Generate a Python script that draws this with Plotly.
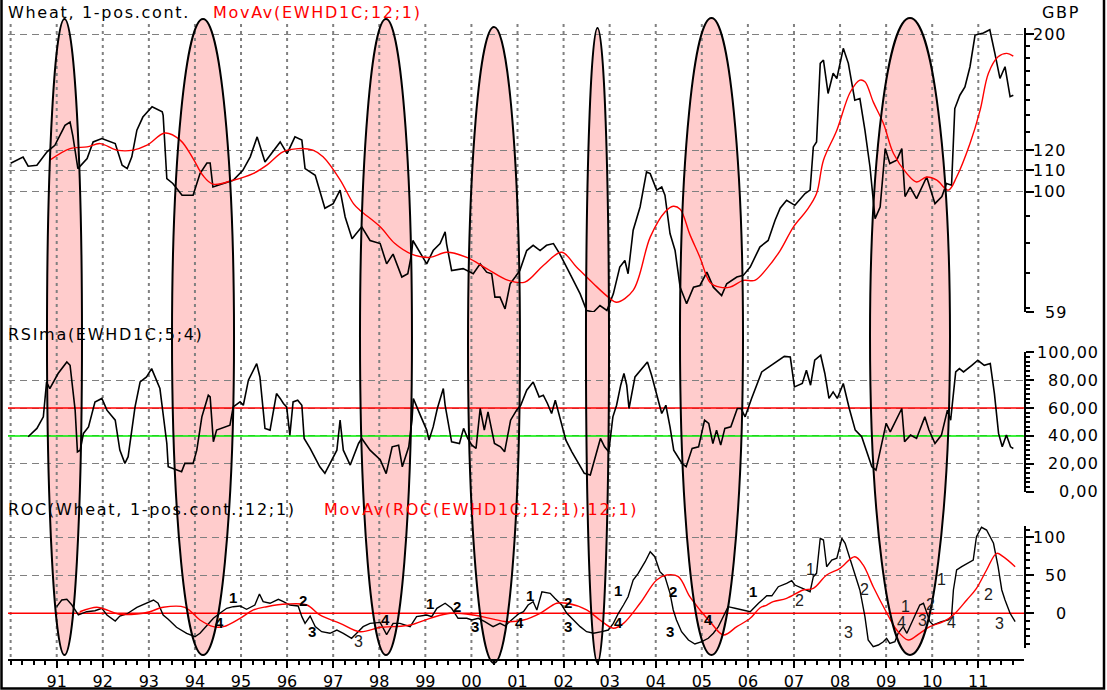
import math
import plotly.graph_objects as go

# ------------------------------------------------------------------ data
# price (GBP), log scale  -- (decimal year, value)
price_pts = [
    (1990.00, 113.5), (1990.27, 116.6), (1990.38, 112.0), (1990.57, 112.5), (1990.79, 119.3),
    (1990.96, 122.8), (1991.18, 134.0), (1991.29, 136.0), (1991.35, 128.0), (1991.46, 110.8),
    (1991.66, 115.8), (1991.79, 124.6), (1991.98, 126.5), (1992.27, 123.7), (1992.42, 112.5),
    (1992.53, 110.8), (1992.63, 116.7), (1992.74, 131.2), (1992.87, 139.0), (1993.07, 145.5),
    (1993.29, 142.3), (1993.31, 140.0), (1993.39, 106.0), (1993.52, 103.8), (1993.72, 98.6),
    (1993.96, 98.6), (1994.11, 108.4), (1994.26, 113.6), (1994.33, 113.6), (1994.39, 102.2),
    (1994.83, 105.3), (1995.04, 110.0), (1995.20, 116.7), (1995.35, 127.4), (1995.52, 114.1),
    (1995.69, 119.3), (1995.85, 124.6), (1996.00, 118.4), (1996.17, 127.4), (1996.32, 125.6),
    (1996.39, 110.8), (1996.61, 107.6), (1996.82, 93.1), (1997.00, 95.0), (1997.15, 100.8),
    (1997.26, 89.6), (1997.41, 81.4), (1997.62, 85.8), (1997.80, 80.8), (1998.02, 79.7),
    (1998.16, 72.9), (1998.30, 76.1), (1998.49, 68.8), (1998.62, 69.8), (1998.70, 76.1),
    (1998.73, 80.8), (1999.03, 72.9), (1999.17, 77.3), (1999.32, 79.7), (1999.43, 83.9),
    (1999.46, 79.7), (1999.57, 70.8), (1999.82, 71.4), (2000.04, 69.8), (2000.19, 72.9),
    (2000.33, 70.3), (2000.44, 69.8), (2000.51, 63.0), (2000.62, 63.0), (2000.73, 59.8),
    (2000.84, 66.8), (2000.95, 68.8), (2001.05, 70.8), (2001.20, 77.3), (2001.34, 79.1),
    (2001.49, 77.3), (2001.63, 79.1), (2001.78, 79.7), (2001.92, 76.1), (2002.14, 69.8),
    (2002.36, 63.9), (2002.50, 59.4), (2002.65, 59.0), (2002.79, 60.7), (2002.94, 59.4),
    (2003.08, 63.9), (2003.22, 71.9), (2003.33, 74.0), (2003.40, 69.8), (2003.51, 84.5),
    (2003.66, 93.6), (2003.80, 109.2), (2003.88, 108.4), (2004.02, 100.8), (2004.13, 102.2),
    (2004.20, 98.6), (2004.31, 83.3), (2004.42, 77.3), (2004.53, 65.8), (2004.67, 61.2),
    (2004.82, 65.8), (2004.96, 66.3), (2005.11, 70.3), (2005.25, 65.8), (2005.43, 63.4),
    (2005.54, 66.8), (2005.76, 68.8), (2005.90, 69.3), (2006.05, 71.9), (2006.26, 78.5),
    (2006.44, 80.8), (2006.59, 88.3), (2006.70, 93.1), (2006.84, 96.4), (2007.02, 94.3),
    (2007.24, 99.3), (2007.35, 100.8), (2007.42, 121.9), (2007.49, 124.6), (2007.57, 176.0),
    (2007.64, 178.6), (2007.74, 154.2), (2007.85, 168.5), (2007.93, 164.7), (2008.07, 188.0),
    (2008.18, 176.0), (2008.32, 149.7), (2008.43, 150.8), (2008.54, 131.2), (2008.65, 111.6),
    (2008.72, 96.4), (2008.76, 88.9), (2008.87, 93.6), (2008.98, 121.0), (2009.08, 113.3),
    (2009.23, 115.0), (2009.34, 121.0), (2009.41, 98.0), (2009.52, 102.2), (2009.66, 97.1),
    (2009.88, 106.8), (2010.06, 95.0), (2010.21, 98.0), (2010.31, 103.8), (2010.42, 103.0),
    (2010.46, 121.0), (2010.49, 144.3), (2010.60, 153.0), (2010.71, 158.7), (2010.82, 173.4),
    (2010.93, 199.3), (2011.11, 201.2), (2011.25, 204.0), (2011.36, 183.9), (2011.47, 164.7),
    (2011.58, 173.4), (2011.69, 152.0), (2011.76, 153.0),
]

# MovAv(EWHD1C;12;1)
price_ma_pts = [
    (1990.85, 115.0), (1991.29, 121.0), (1991.66, 121.9), (1991.94, 123.7), (1992.31, 120.2),
    (1992.66, 120.2), (1992.96, 122.8), (1993.35, 129.6), (1993.68, 125.6), (1993.96, 115.8),
    (1994.17, 107.6), (1994.39, 103.5), (1994.83, 105.3), (1995.26, 108.4), (1995.56, 112.5),
    (1995.91, 119.3), (1996.24, 121.0), (1996.56, 120.2), (1996.78, 116.7), (1997.15, 105.5),
    (1997.44, 95.0), (1997.58, 92.3), (1998.02, 85.8), (1998.34, 79.7), (1998.70, 76.1),
    (1999.10, 75.0), (1999.46, 76.7), (1999.90, 75.0), (2000.33, 71.4), (2000.80, 67.8),
    (2001.16, 67.3), (2001.56, 72.4), (2001.96, 76.7), (2002.28, 71.9), (2002.65, 66.8),
    (2002.97, 63.0), (2003.15, 61.6), (2003.51, 64.9), (2003.88, 82.0), (2004.20, 91.6),
    (2004.38, 93.9), (2004.53, 92.7), (2004.74, 83.0), (2004.96, 75.0), (2005.18, 67.2),
    (2005.39, 65.8), (2005.61, 65.8), (2005.90, 67.8), (2006.15, 67.8), (2006.41, 71.4),
    (2006.70, 77.3), (2006.99, 85.8), (2007.28, 92.3), (2007.49, 99.3), (2007.64, 115.0),
    (2007.93, 131.2), (2008.22, 155.0), (2008.43, 163.5), (2008.54, 162.4), (2008.72, 148.6),
    (2008.94, 135.2), (2009.16, 118.4), (2009.45, 108.4), (2009.66, 104.5), (2009.88, 106.8),
    (2010.10, 105.3), (2010.35, 100.8), (2010.53, 106.8), (2010.82, 123.7), (2011.04, 143.3),
    (2011.22, 168.5), (2011.43, 181.2), (2011.62, 183.9), (2011.76, 181.7),
]

# RSIma(EWHD1C;5;4)
rsi_pts = [
    (1990.38, 39.4), (1990.57, 45.4), (1990.71, 53.7), (1990.78, 78.7), (1990.85, 74.0),
    (1991.03, 84.8), (1991.22, 93.1), (1991.29, 90.7), (1991.40, 58.5), (1991.45, 28.6),
    (1991.51, 29.8), (1991.58, 41.8), (1991.69, 46.5), (1991.83, 64.4), (1991.98, 66.9),
    (1992.09, 58.5), (1992.27, 51.3), (1992.37, 29.8), (1992.48, 20.3), (1992.55, 25.1),
    (1992.70, 60.8), (1992.81, 78.7), (1992.95, 82.3), (1993.06, 88.3), (1993.24, 74.0),
    (1993.39, 34.6), (1993.42, 17.9), (1993.71, 14.3), (1993.78, 20.3), (1993.96, 20.3),
    (1994.04, 29.8), (1994.15, 53.7), (1994.29, 69.2), (1994.33, 68.0), (1994.40, 35.8),
    (1994.47, 44.2), (1994.76, 47.7), (1994.83, 60.8), (1994.98, 64.4), (1995.05, 62.0),
    (1995.16, 80.0), (1995.34, 91.9), (1995.41, 82.3), (1995.52, 45.4), (1995.63, 44.2),
    (1995.77, 70.4), (1995.85, 66.9), (1995.92, 63.3), (1995.99, 60.8), (1996.06, 40.6),
    (1996.13, 64.4), (1996.23, 65.6), (1996.32, 62.0), (1996.37, 38.2), (1996.50, 31.1),
    (1996.71, 17.9), (1996.82, 13.2), (1996.97, 22.7), (1997.08, 29.8), (1997.15, 51.3),
    (1997.22, 29.8), (1997.37, 19.1), (1997.55, 34.6), (1997.62, 38.2), (1997.80, 29.8),
    (1998.02, 23.0), (1998.15, 13.0), (1998.28, 32.2), (1998.42, 33.4), (1998.50, 17.9),
    (1998.64, 32.2), (1998.71, 51.3), (1998.74, 66.9), (1998.86, 57.3), (1999.03, 44.2),
    (1999.08, 37.0), (1999.17, 46.5), (1999.26, 59.7), (1999.39, 74.0), (1999.43, 62.0),
    (1999.57, 35.8), (1999.74, 34.6), (1999.83, 45.4), (1999.92, 38.2), (2000.01, 33.4),
    (2000.10, 31.1), (2000.19, 59.7), (2000.28, 44.2), (2000.36, 57.3), (2000.50, 34.6),
    (2000.63, 32.2), (2000.72, 28.6), (2000.85, 51.3), (2000.98, 58.5), (2001.07, 62.0),
    (2001.20, 72.8), (2001.34, 78.7), (2001.47, 68.0), (2001.56, 69.2), (2001.65, 63.3),
    (2001.74, 56.1), (2001.82, 65.6), (2001.91, 53.7), (2002.05, 37.0), (2002.18, 28.6),
    (2002.36, 17.9), (2002.45, 13.2), (2002.58, 12.0), (2002.67, 22.7), (2002.80, 38.2),
    (2002.89, 32.2), (2002.98, 28.6), (2003.07, 53.7), (2003.15, 62.0), (2003.24, 76.4),
    (2003.31, 84.8), (2003.37, 76.4), (2003.42, 59.7), (2003.55, 82.3), (2003.82, 93.1),
    (2003.91, 83.5), (2004.04, 68.0), (2004.13, 56.1), (2004.22, 62.0), (2004.31, 46.5),
    (2004.39, 29.8), (2004.57, 20.3), (2004.66, 17.9), (2004.79, 31.1), (2004.93, 32.2),
    (2005.06, 51.3), (2005.15, 49.0), (2005.24, 34.6), (2005.32, 44.2), (2005.41, 33.4),
    (2005.50, 45.4), (2005.63, 46.5), (2005.77, 59.7), (2005.85, 59.7), (2005.94, 53.7),
    (2006.08, 66.9), (2006.30, 85.9), (2006.56, 91.9), (2006.79, 97.1), (2006.92, 96.6),
    (2007.01, 75.2), (2007.18, 77.6), (2007.27, 87.1), (2007.36, 76.4), (2007.45, 94.3),
    (2007.58, 97.9), (2007.67, 84.8), (2007.76, 66.9), (2007.85, 71.6), (2007.94, 66.9),
    (2008.07, 77.6), (2008.20, 59.7), (2008.33, 44.2), (2008.47, 39.4), (2008.56, 31.1),
    (2008.69, 17.9), (2008.78, 15.5), (2008.87, 28.6), (2009.00, 49.0), (2009.09, 42.9),
    (2009.22, 51.3), (2009.34, 59.7), (2009.40, 35.8), (2009.53, 40.6), (2009.66, 38.2),
    (2009.84, 53.7), (2009.93, 44.2), (2010.06, 34.6), (2010.20, 40.6), (2010.33, 58.5),
    (2010.40, 51.3), (2010.51, 85.9), (2010.59, 88.3), (2010.68, 85.9), (2010.86, 90.7),
    (2010.99, 94.3), (2011.13, 90.7), (2011.26, 91.9), (2011.35, 70.4), (2011.44, 41.8),
    (2011.52, 32.2), (2011.61, 40.6), (2011.70, 32.2), (2011.76, 31.0),
]

# ROC(Wheat, 1-pos.cont.;12;1)
roc_pts = [
    (1991.00, 8.7), (1991.11, 17.5), (1991.22, 18.4), (1991.33, 10.9), (1991.47, -2.2),
    (1991.65, 2.1), (1991.83, 3.4), (1991.98, 6.6), (1992.09, -2.2), (1992.27, -10.1),
    (1992.37, -3.6), (1992.52, -0.9), (1992.74, 7.9), (1992.95, 13.2), (1993.10, 17.5),
    (1993.20, 13.2), (1993.31, -2.2), (1993.42, -7.9), (1993.60, -18.4), (1993.82, -26.3),
    (1994.00, -30.8), (1994.11, -26.3), (1994.26, -15.4), (1994.40, -6.6), (1994.54, 0.0),
    (1994.69, 6.6), (1994.83, 8.7), (1994.98, 9.6), (1995.12, 5.3), (1995.30, 10.9),
    (1995.40, 25.4), (1995.48, 15.3), (1995.63, 13.2), (1995.81, 18.4), (1995.92, 15.3),
    (1996.06, 10.9), (1996.24, 9.6), (1996.32, -4.4), (1996.39, -13.2), (1996.50, -3.6),
    (1996.61, -17.6), (1996.75, -24.2), (1996.93, -26.3), (1997.08, -22.0), (1997.22, -26.3),
    (1997.40, -32.9), (1997.51, -26.3), (1997.65, -17.6), (1997.80, -13.2), (1998.02, -12.0),
    (1998.16, -28.0), (1998.30, -13.2), (1998.45, -13.2), (1998.67, -17.6), (1998.81, -4.4),
    (1999.03, -2.2), (1999.14, -4.4), (1999.25, 6.6), (1999.43, 13.2), (1999.57, 6.6),
    (1999.71, -6.6), (1999.90, -6.6), (2000.01, -8.8), (2000.15, -6.6), (2000.29, -11.0),
    (2000.47, -17.6), (2000.62, -13.2), (2000.73, -16.7), (2000.87, -8.8), (2001.02, -0.9),
    (2001.13, 2.1), (2001.23, 10.9), (2001.34, 15.3), (2001.42, 4.4), (2001.53, 28.4),
    (2001.71, 26.3), (2001.81, 19.7), (2001.96, 10.9), (2002.07, 0.0), (2002.18, -6.6),
    (2002.36, -17.6), (2002.50, -24.2), (2002.65, -26.3), (2002.83, -24.2), (2002.97, -22.0),
    (2003.08, -13.2), (2003.19, 0.0), (2003.30, 10.9), (2003.40, 21.8), (2003.51, 43.8),
    (2003.62, 52.6), (2003.77, 67.9), (2003.88, 81.1), (2003.98, 74.5), (2004.09, 54.7),
    (2004.20, 48.2), (2004.31, 26.3), (2004.38, 4.4), (2004.45, -8.8), (2004.56, -24.2),
    (2004.71, -35.1), (2004.85, -40.4), (2005.00, -37.4), (2005.14, -32.9), (2005.25, -26.3),
    (2005.36, -17.6), (2005.47, -4.4), (2005.57, 8.7), (2005.72, 6.6), (2005.90, 4.4),
    (2006.05, 2.1), (2006.23, 13.2), (2006.41, 23.0), (2006.52, 23.0), (2006.66, 35.0),
    (2006.84, 39.5), (2006.95, 42.9), (2007.02, 37.2), (2007.20, 32.9), (2007.35, 28.4),
    (2007.42, 48.2), (2007.49, 52.6), (2007.57, 98.7), (2007.64, 96.4), (2007.71, 61.3),
    (2007.82, 70.1), (2007.93, 72.4), (2008.04, 98.7), (2008.11, 92.1), (2008.22, 70.1),
    (2008.32, 52.6), (2008.43, 30.7), (2008.54, -4.4), (2008.61, -35.1), (2008.72, -43.9),
    (2008.83, -41.7), (2008.94, -37.4), (2009.01, -32.9), (2009.08, -39.5), (2009.19, -37.4),
    (2009.26, -26.3), (2009.37, -17.6), (2009.45, -26.3), (2009.55, -13.2), (2009.66, 0.0),
    (2009.73, 10.9), (2009.81, 13.2), (2009.88, 0.0), (2009.95, -11.0), (2010.02, -15.4),
    (2010.20, -11.0), (2010.35, -8.8), (2010.42, -4.4), (2010.46, 30.7), (2010.53, 57.0),
    (2010.64, 61.3), (2010.82, 67.9), (2010.89, 70.1), (2010.96, 100.8), (2011.07, 113.2),
    (2011.18, 109.6), (2011.33, 92.1), (2011.43, 61.3), (2011.51, 30.7), (2011.58, 17.5),
    (2011.69, 0.0), (2011.80, -11.0),
]

# MovAv(ROC(EWHD1C;12;1);12;1)
roc_ma_pts = [
    (1991.50, 2.0), (1991.87, 7.9), (1992.09, 4.4), (1992.34, -0.9), (1992.74, -0.9),
    (1993.02, 2.1), (1993.31, 7.9), (1993.78, 7.9), (1994.11, -8.8), (1994.40, -17.6),
    (1994.62, -17.6), (1994.98, -6.6), (1995.27, 4.4), (1995.56, 8.7), (1995.99, 12.2),
    (1996.43, 10.9), (1996.71, -2.2), (1997.15, -13.2), (1997.58, -24.2), (1998.02, -18.4),
    (1998.30, -17.6), (1998.67, -15.4), (1999.10, -6.6), (1999.54, 0.0), (2000.04, -2.2),
    (2000.40, -6.6), (2000.77, -11.0), (2001.13, -8.8), (2001.49, 0.0), (2001.85, 13.2),
    (2002.07, 13.2), (2002.50, 4.4), (2002.79, -8.8), (2003.08, -19.7), (2003.30, -13.2),
    (2003.66, 13.2), (2004.02, 43.8), (2004.24, 50.4), (2004.49, 48.2), (2004.74, 21.8),
    (2004.96, 4.4), (2005.18, -11.0), (2005.47, -28.5), (2005.76, -17.6), (2006.05, -6.6),
    (2006.26, 7.0), (2006.41, 10.9), (2006.55, 15.3), (2006.84, 19.7), (2007.20, 30.7),
    (2007.42, 32.9), (2007.71, 50.4), (2008.00, 59.2), (2008.32, 74.5), (2008.50, 63.6),
    (2008.72, 35.0), (2008.98, 4.4), (2009.23, -22.0), (2009.48, -35.1), (2009.73, -26.3),
    (2009.95, -17.6), (2010.24, -11.0), (2010.46, -2.2), (2010.75, 17.5), (2010.96, 32.9),
    (2011.18, 57.0), (2011.40, 78.9), (2011.54, 74.5), (2011.80, 61.3),
]

# wave count labels in the ROC panel: (label, year, ROC value, bold)
wave_labels = [
    ("4", 1994.54, -12.4, True), ("1", 1994.83, 21.4, True), ("2", 1996.35, 16.6, True),
    ("3", 1996.54, -24.2, True), ("3", 1997.54, -37.4, False), ("4", 1998.13, -8.8, True),
    ("1", 1999.10, 13.2, True), ("2", 1999.68, 9.6, True), ("3", 2000.08, -17.6, True),
    ("4", 2001.05, -12.4, True), ("1", 2001.27, 22.8, True), ("2", 2002.10, 13.9, True),
    ("3", 2002.10, -17.6, True), ("4", 2003.19, -12.4, True), ("1", 2003.19, 29.7, True),
    ("2", 2004.38, 28.4, True), ("3", 2004.31, -24.2, True), ("4", 2005.14, -7.9, True),
    ("1", 2006.12, 28.4, True), ("2", 2007.13, 17.5, False), ("1", 2007.35, 57.0, False),
    ("3", 2008.18, -25.5, False), ("2", 2008.54, 30.7, False), ("1", 2009.41, 9.5, False),
    ("4", 2009.34, -12.4, False), ("2", 2009.97, 11.5, False), ("3", 2009.80, -9.0, False),
    ("1", 2010.20, 44.7, False), ("4", 2010.42, -12.4, False), ("2", 2011.22, 24.1, False),
    ("3", 2011.47, -13.2, False),
]

# highlighted periods (ellipses): centre year and half width in years
ellipse_center = [1991.169, 1994.175, 1998.146, 2000.490, 2002.736, 2005.210, 2009.518]
ellipse_halfwidth = [0.380, 0.673, 0.564, 0.564, 0.250, 0.684, 0.868]

year_ticks = list(range(1991, 2012))
year_labels = ["91", "92", "93", "94", "95", "96", "97", "98", "99", "00", "01",
               "02", "03", "04", "05", "06", "07", "08", "09", "10", "11"]
grid_years = list(range(1990, 2012))

price_tickvals = [59, 100, 110, 120, 200]
price_ticklabels = ["59", "100", "110", "120", "200"]
price_minor = [60, 70, 80, 90, 130, 140, 150, 160, 170, 180, 190]
rsi_tickvals = [0, 20, 40, 60, 80, 100]
rsi_ticklabels = ["0,00", "20,00", "40,00", "60,00", "80,00", "100,00"]
roc_tickvals = [0, 50, 100]
roc_ticklabels = ["0", "50", "100"]
rsi_upper_level = 60
rsi_lower_level = 40
roc_zero_level = 0

# ------------------------------------------------------------------ layout helpers
W, H = 1107, 690
ML, MR = 8, 83
PW = W - ML - MR
XR = [1989.943, 2011.992]


def py(p):            # pixel row -> paper y
    return 1 - p / H


def px(p):            # pixel column -> paper x
    return (p - ML) / PW


FONT = "DejaVu Sans"
GRID = "#808080"
PINK = "#ffcccc"


def unzip(pts):
    return [p[0] for p in pts], [p[1] for p in pts]


def spaced(text, sp):
    return f'<span style="letter-spacing:{sp}px">{text}</span>'


fig = go.Figure()

# reference levels (under the data lines)
fig.add_trace(go.Scatter(x=XR, y=[rsi_upper_level] * 2, yaxis="y2", mode="lines",
                         line=dict(color="#ff0000", width=1.5), hoverinfo="skip"))
fig.add_trace(go.Scatter(x=XR, y=[rsi_lower_level] * 2, yaxis="y2", mode="lines",
                         line=dict(color="#00ee00", width=1.5), hoverinfo="skip"))
fig.add_trace(go.Scatter(x=XR, y=[roc_zero_level] * 2, yaxis="y3", mode="lines",
                         line=dict(color="#ff0000", width=1.5), hoverinfo="skip"))

x, y = unzip(price_pts)
fig.add_trace(go.Scatter(x=x, y=y, yaxis="y", mode="lines", line=dict(color="black", width=1.6)))
x, y = unzip(price_ma_pts)
fig.add_trace(go.Scatter(x=x, y=y, yaxis="y", mode="lines", line=dict(color="#ff0000", width=1.4, shape="spline")))
x, y = unzip(rsi_pts)
fig.add_trace(go.Scatter(x=x, y=y, yaxis="y2", mode="lines", line=dict(color="black", width=1.6)))
x, y = unzip(roc_pts)
fig.add_trace(go.Scatter(x=x, y=y, yaxis="y3", mode="lines", line=dict(color="black", width=1.4)))
x, y = unzip(roc_ma_pts)
fig.add_trace(go.Scatter(x=x, y=y, yaxis="y3", mode="lines", line=dict(color="#ff0000", width=1.4, shape="spline")))

shapes = []
ell_top = [19, 19, 19, 27, 28, 18, 18]
ell_bot = [655, 655, 655, 663, 663, 655, 655]
for c, hw, t, b in zip(ellipse_center, ellipse_halfwidth, ell_top, ell_bot):
    shapes.append(dict(type="circle", xref="x", yref="paper", x0=c - hw, x1=c + hw,
                       y0=py(b), y1=py(t), fillcolor=PINK, line=dict(width=0), layer="below"))
for yr in grid_years:
    shapes.append(dict(type="line", xref="x", yref="paper", x0=yr, x1=yr, y0=py(657), y1=py(20),
                       line=dict(color=GRID, width=2, dash="3px,4px"), layer="below"))
for c, hw, t, b in zip(ellipse_center, ellipse_halfwidth, ell_top, ell_bot):
    shapes.append(dict(type="circle", xref="x", yref="paper", x0=c - hw, x1=c + hw,
                       y0=py(b), y1=py(t), fillcolor="rgba(0,0,0,0)",
                       line=dict(color="black", width=2), layer="above"))
# outer frame
shapes.append(dict(type="rect", xref="paper", yref="paper", x0=px(1.5), x1=px(1104),
                   y0=py(688.5), y1=py(-10), line=dict(color="black", width=2.5),
                   fillcolor="rgba(0,0,0,0)", layer="above"))

ann = []
tf = dict(family=FONT, size=16, color="black")
for v, t in zip(price_tickvals, price_ticklabels):
    ann.append(dict(xref="paper", yref="y", x=px(1069), y=math.log10(v), text=spaced(t, 1),
                    showarrow=False, xanchor="right", yanchor="middle", font=tf))
for v, t in zip(rsi_tickvals, rsi_ticklabels):
    ann.append(dict(xref="paper", yref="y2", x=px(1101), y=v, text=spaced(t, 1),
                    showarrow=False, xanchor="right", yanchor="middle", font=tf))
for v, t in zip(roc_tickvals, roc_ticklabels):
    ann.append(dict(xref="paper", yref="y3", x=px(1069), y=v, text=spaced(t, 1),
                    showarrow=False, xanchor="right", yanchor="middle", font=tf))

titles = [
    ("Wheat, 1-pos.cont.", 6, 12, "black", "left"),
    ("MovAv(EWHD1C;12;1)", 211, 12, "#ff0000", "left"),
    ("GBP", 1082, 12, "black", "right"),
    ("RSIma(EWHD1C;5;4)", 6, 335, "black", "left"),
    ("ROC(Wheat, 1-pos.cont.;12;1)", 6, 509, "black", "left"),
    ("MovAv(ROC(EWHD1C;12;1);12;1)", 322, 509, "#ff0000", "left"),
]
for t, xp, yp, col, anc in titles:
    ann.append(dict(xref="paper", yref="paper", x=px(xp), y=py(yp), text=spaced(t, 1.7),
                    showarrow=False, xanchor=anc, yanchor="middle",
                    font=dict(family=FONT, size=16, color=col)))

for lab, yr, v, bold in wave_labels:
    ann.append(dict(xref="x", yref="y3", x=yr, y=v, showarrow=False,
                    text=f"<b>{lab}</b>" if bold else lab, xanchor="center", yanchor="middle",
                    font=dict(family="Liberation Sans", size=15 if bold else 16,
                              color="black" if bold else "#202020")))

axis_common = dict(side="right", anchor="x", showline=True, linecolor="black", linewidth=2,
                   ticks="outside", ticklen=8, tickwidth=2, tickcolor="black",
                   showticklabels=False, showgrid=True, gridcolor=GRID, gridwidth=1.3,
                   griddash="7px,5px", zeroline=False)

fig.update_layout(
    width=W, height=H, margin=dict(l=ML, r=MR, t=0, b=0),
    paper_bgcolor="white", plot_bgcolor="rgba(0,0,0,0)", showlegend=False,
    xaxis=dict(range=XR, anchor="free", position=py(660), showline=True, linecolor="black",
               linewidth=2, ticks="outside", ticklen=7, tickwidth=2, tickcolor="black",
               tickmode="array", tickvals=year_ticks, ticktext=year_labels,
               tickfont=dict(family=FONT, size=16, color="black"), showgrid=False, zeroline=False,
               minor=dict(tickvals=[1990 + 0.25 * i for i in range(88)], ticks="outside",
                          ticklen=4, tickwidth=1.5, tickcolor="black", showgrid=False)),
    yaxis=dict(type="log", domain=[py(312), py(28)], range=[math.log10(59), math.log10(205.6)],
               tickmode="array", tickvals=price_tickvals,
               minor=dict(tickvals=price_minor, ticks="outside", ticklen=4, tickwidth=1.5,
                          tickcolor="black", showgrid=False),
               **axis_common),
    yaxis2=dict(domain=[py(491.7), py(352.3)], range=[0, 100], tickmode="array",
                tickvals=rsi_tickvals,
                minor=dict(tickvals=[i * 10 / 3 for i in range(31)], ticks="outside", ticklen=4,
                           tickwidth=1.5, tickcolor="black", showgrid=False),
                **axis_common),
    yaxis3=dict(domain=[py(648), py(526)], range=[-45.66, 114.87], tickmode="array",
                tickvals=roc_tickvals,
                minor=dict(tickvals=[-40, -30, -20, -10, 10, 20, 30, 40, 60, 70, 80, 90, 110],
                           ticks="outside", ticklen=4, tickwidth=1.5, tickcolor="black",
                           showgrid=False),
                **axis_common),
    shapes=shapes, annotations=ann,
)

fig.write_html("out.html", config={"displayModeBar": False},
               post_script="document.body.style.margin='0';")
